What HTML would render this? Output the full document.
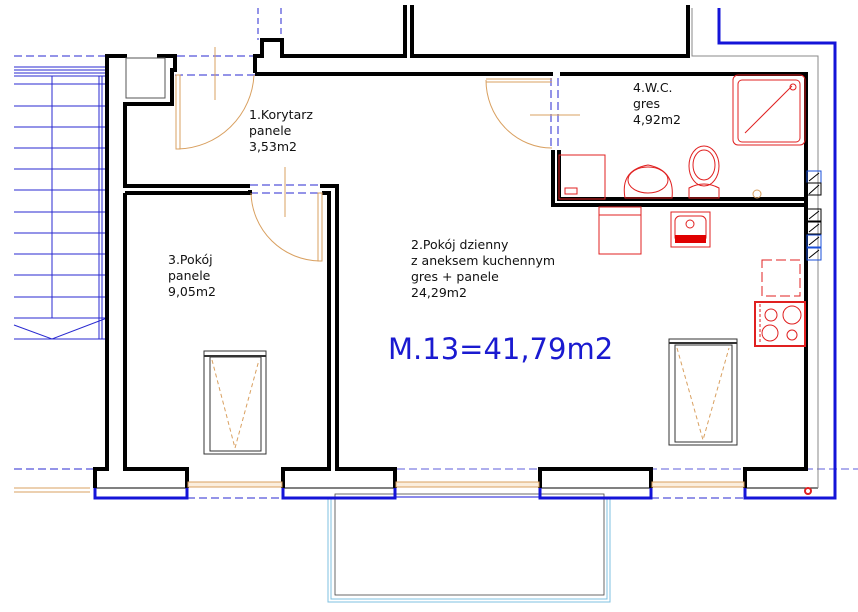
<!DOCTYPE html>
<html><head><meta charset="utf-8"><style>
html,body{margin:0;padding:0;background:#fff;width:858px;height:612px;overflow:hidden}
svg{display:block}
text{font-family:"DejaVu Sans","Liberation Sans",sans-serif;fill:#111}
</style></head><body>
<svg width="858" height="612" viewBox="0 0 858 612" xmlns="http://www.w3.org/2000/svg">
<!-- stairs -->
<g stroke="#2a2ad0" stroke-width="1" fill="none">
<line x1="14" y1="56" x2="107" y2="56" stroke-dasharray="8,4"/>
<line x1="14" y1="67" x2="107" y2="67"/><line x1="14" y1="70" x2="107" y2="70"/><line x1="14" y1="73" x2="107" y2="73"/><line x1="14" y1="76" x2="107" y2="76"/>
<line x1="14" y1="84" x2="107" y2="84"/><line x1="14" y1="106" x2="107" y2="106"/><line x1="14" y1="127" x2="107" y2="127"/><line x1="14" y1="148" x2="107" y2="148"/><line x1="14" y1="169" x2="107" y2="169"/><line x1="14" y1="190" x2="107" y2="190"/><line x1="14" y1="212" x2="107" y2="212"/><line x1="14" y1="233" x2="107" y2="233"/><line x1="14" y1="254" x2="107" y2="254"/><line x1="14" y1="275" x2="107" y2="275"/><line x1="14" y1="297" x2="107" y2="297"/><line x1="14" y1="318" x2="107" y2="318"/><line x1="14" y1="339" x2="107" y2="339"/>
<line x1="52" y1="76" x2="52" y2="318"/><line x1="99" y1="76" x2="99" y2="339"/><line x1="102" y1="76" x2="102" y2="339"/>
<polyline points="14,325 52,339 107,318"/>
<line x1="14" y1="469" x2="95" y2="469" stroke-dasharray="8,4"/>
<line x1="337" y1="469" x2="858" y2="469" stroke-dasharray="8,4" stroke-width="0.8"/>
<line x1="187" y1="498" x2="283" y2="498" stroke-dasharray="8,4"/>
<line x1="651" y1="498" x2="745" y2="498" stroke-dasharray="8,4"/>
<line x1="258" y1="8" x2="258" y2="40" stroke-dasharray="6,4"/><line x1="281" y1="8" x2="281" y2="40" stroke-dasharray="6,4"/>
<line x1="165" y1="56" x2="255" y2="56" stroke-dasharray="8,4"/><line x1="175" y1="75" x2="255" y2="75" stroke-dasharray="8,4"/>
<line x1="250" y1="185" x2="320" y2="185" stroke-dasharray="8,4"/><line x1="250" y1="193" x2="320" y2="193" stroke-dasharray="8,4"/>
<line x1="551" y1="78" x2="551" y2="148" stroke-dasharray="8,4"/><line x1="558" y1="78" x2="558" y2="148" stroke-dasharray="8,4"/>
</g>
<line x1="14" y1="488" x2="90" y2="488" stroke="#d9a060" stroke-width="1"/><line x1="14" y1="492" x2="90" y2="492" stroke="#d9a060" stroke-width="1"/>
<!-- balcony -->
<g fill="none"><rect x="328" y="497" width="282" height="105" stroke="#7fc0e0" stroke-width="1"/><rect x="331" y="497" width="276" height="102" stroke="#7fc0e0" stroke-width="1"/><rect x="335" y="494" width="269" height="101" stroke="#444" stroke-width="0.8"/></g>
<!-- walls -->
<g stroke="#000" stroke-width="4" fill="none" stroke-linejoin="miter">
<polyline points="95,488 95,469 107,469 107,56 127,56"/>
<polyline points="157,56 175,56 175,70 172,70 172,104 125,104 125,186 250,186"/>
<polyline points="320,186 337,186 337,469 395,469 395,488"/>
<polyline points="125,193 250,193 250,190"/>
<polyline points="125,193 125,469 187,469 187,488"/>
<polyline points="283,488 283,469 329,469 329,193 322,193"/>
<polyline points="255,73 255,56 262,56 262,40 282,40 282,56 405,56 405,5"/>
<polyline points="412,5 412,56 688,56 688,5"/>
<polyline points="255,74 553,74"/>
<polyline points="560,74 806,74 806,469 745,469 745,488"/>
<polyline points="651,488 651,469 540,469 540,488"/>
<polyline points="553,150 553,205 806,205"/>
<polyline points="559,150 559,199 806,199"/>
</g>
<g stroke="#000" stroke-width="1" fill="none">
<line x1="95" y1="488" x2="187" y2="488"/><line x1="283" y1="488" x2="395" y2="488"/><line x1="540" y1="488" x2="651" y2="488"/><line x1="745" y1="488" x2="818" y2="488"/>
<rect x="126" y="58" width="39" height="40" stroke="#555"/>
</g>
<polyline points="692,8 692,56 818,56 818,488" stroke="#888" stroke-width="1" fill="none"/>
<polyline points="719,8 719,43 835,43 835,498 745,498 745,488" stroke="#1414d8" stroke-width="3" fill="none"/>
<g stroke="#1414d8" stroke-width="3" fill="none">
<polyline points="95,488 95,498 187,498 187,488"/>
<polyline points="283,488 283,498 395,498 395,488"/>
<polyline points="540,488 540,498 651,498 651,488"/>
</g>
<line x1="395" y1="497" x2="540" y2="497" stroke="#1414d8" stroke-width="1"/>
<!-- windows -->
<g stroke="#d9a060" stroke-width="1" fill="#fbeedd">
<rect x="188" y="482" width="94" height="5"/><rect x="396" y="482" width="143" height="5"/><rect x="652" y="482" width="92" height="5"/>
</g>
<!-- doors -->
<g stroke="#d9a060" stroke-width="1" fill="none">
<path d="M254 75 A78 78 0 0 1 178 149"/><rect x="176" y="75" width="4" height="74"/>
<line x1="215" y1="47" x2="215" y2="100"/>
<path d="M251 193 A70 70 0 0 0 320 261"/><rect x="318" y="193" width="4" height="68"/>
<line x1="285" y1="167" x2="285" y2="217"/>
<path d="M486 80 A66 68 0 0 0 552 148"/><line x1="486" y1="79" x2="552" y2="79"/><line x1="486" y1="82" x2="552" y2="82"/>
<line x1="530" y1="115" x2="580" y2="115"/>
<circle cx="757" cy="194" r="4"/>
</g>
<!-- beds/skylights -->
<g fill="none" stroke="#333" stroke-width="1">
<rect x="204" y="351" width="62" height="103"/><rect x="210" y="357" width="51" height="94"/><line x1="204" y1="356" x2="266" y2="356" stroke-width="2"/>
<rect x="669" y="339" width="68" height="106"/><rect x="675" y="345" width="57" height="97"/><line x1="669" y1="343" x2="737" y2="343" stroke-width="2"/>
</g>
<g fill="none" stroke="#d9a060" stroke-width="1" stroke-dasharray="4,3">
<polyline points="212,360 235,448 259,360"/><polyline points="677,348 703,440 729,348"/>
</g>
<!-- red fixtures -->
<g fill="none" stroke="#e02020" stroke-width="1">
<rect x="733" y="75" width="72" height="70" rx="5"/><rect x="738" y="80" width="62" height="62" rx="4"/><line x1="745" y1="133" x2="792" y2="86"/><circle cx="793" cy="87" r="3"/>
<ellipse cx="704" cy="166" rx="15" ry="20"/><ellipse cx="704" cy="165" rx="11" ry="15"/><path d="M689 188 Q704 180 719 188 L719 198 L689 198 Z"/>
<path d="M625 198 Q620 170 648 165 Q675 170 672 198 Z"/><ellipse cx="648" cy="180" rx="20" ry="13"/>
<rect x="559" y="155" width="46" height="44"/><rect x="565" y="188" width="12" height="6"/>
<rect x="599" y="207" width="42" height="47"/><line x1="599" y1="215" x2="641" y2="215"/>
<rect x="671" y="212" width="39" height="35"/><rect x="675" y="216" width="31" height="26" rx="5"/><circle cx="690" cy="224" r="4"/>
<path d="M762 260 h38 v36 h-38 z" stroke-dasharray="10,4"/>
<rect x="755" y="302" width="50" height="44" stroke-width="2"/><line x1="760" y1="304" x2="760" y2="344" stroke-dasharray="3,2"/>
<circle cx="771" cy="315" r="6"/><circle cx="792" cy="315" r="9"/><circle cx="770" cy="333" r="8"/><circle cx="792" cy="335" r="5"/>
<circle cx="808" cy="491" r="3" stroke-width="2"/>
</g>
<rect x="675" y="235" width="31" height="8" fill="#e00000"/>
<!-- vents -->
<g fill="none" stroke-width="1">
<rect x="807" y="171" width="14" height="12" stroke="#1a4fd8"/><rect x="807" y="183" width="14" height="12" stroke="#000"/>
<rect x="807" y="209" width="14" height="12" stroke="#000"/><rect x="807" y="222" width="14" height="12" stroke="#000"/>
<rect x="807" y="235" width="14" height="12" stroke="#1a4fd8"/><rect x="807" y="248" width="14" height="12" stroke="#1a4fd8"/>
<path d="M809 181 L819 173 M809 194 L819 185 M809 219 L819 211 M809 232 L819 224 M809 245 L819 237 M809 258 L819 250" stroke="#000"/>
</g>
<!-- labels -->
<g font-size="12.5">
<text x="249" y="119">1.Korytarz</text><text x="249" y="135">panele</text><text x="249" y="151">3,53m2</text>
<text x="168" y="264">3.Pokój</text><text x="168" y="280">panele</text><text x="168" y="296">9,05m2</text>
<text x="411" y="249">2.Pokój dzienny</text><text x="411" y="265">z aneksem kuchennym</text><text x="411" y="281">gres + panele</text><text x="411" y="297">24,29m2</text>
<text x="633" y="92">4.W.C.</text><text x="633" y="108">gres</text><text x="633" y="124">4,92m2</text>
</g>
<text x="388" y="359" font-size="29" style="fill:#1a1ad0">M.13=41,79m2</text>
</svg>
</body></html>
